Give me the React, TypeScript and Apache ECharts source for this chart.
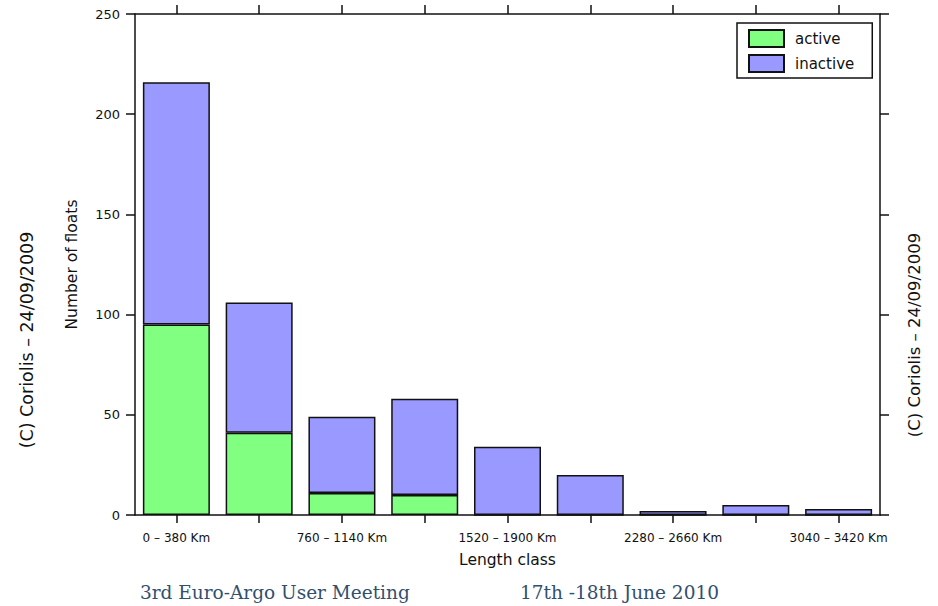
import React, { useEffect, useRef } from "react";
import * as echarts from "echarts";

// Length classes of float trajectories
const categories = [
  "0 – 380 Km",
  "380 – 760 Km",
  "760 – 1140 Km",
  "1140 – 1520 Km",
  "1520 – 1900 Km",
  "1900 – 2280 Km",
  "2280 – 2660 Km",
  "2660 – 3040 Km",
  "3040 – 3420 Km",
];

// Number of floats per class
const activeFloats = [95, 41, 11, 10, 0, 0, 0, 0, 0];
const inactiveFloats = [121, 65, 38, 48, 34, 20, 2, 5, 3];

const yTicks = [0, 50, 100, 150, 200, 250];

const FONT = "DejaVu Sans";
const AXIS_COLOR = "#111";

export default function App() {
  const ref = useRef<HTMLDivElement>(null);

  useEffect(() => {
    if (!ref.current) return;
    const chart = echarts.init(ref.current, undefined, { renderer: "svg" });

    const yMin = yTicks[0];
    const yMax = yTicks[yTicks.length - 1];
    const yStep = yTicks[1] - yTicks[0];

    const lineStyle = { color: AXIS_COLOR, width: 1.5 };

    chart.setOption({
      animation: false,
      backgroundColor: "#fff",
      grid: { left: 135, top: 14, right: 58, bottom: 91, containLabel: false },
      legend: {
        orient: "vertical",
        left: 737,
        top: 23,
        width: 136,
        itemWidth: 35,
        itemHeight: 17,
        itemGap: 6,
        padding: [6, 18, 5, 11],
        borderColor: AXIS_COLOR,
        borderWidth: 1.5,
        icon: "rect",
        textStyle: { fontFamily: FONT, fontSize: 15, color: "#111", padding: [0, 0, 0, 6] },
        data: ["active", "inactive"],
      },
      xAxis: [
        {
          type: "category",
          data: categories,
          position: "bottom",
          boundaryGap: true,
          axisLine: { onZero: false, lineStyle },
          axisTick: { show: true, alignWithLabel: true, interval: 0, length: 8, lineStyle },
          axisLabel: {
            interval: 1,
            margin: 17,
            fontFamily: FONT,
            fontSize: 12,
            color: "#111",
          },
          name: "Length class",
          nameLocation: "middle",
          nameGap: 37,
          nameTextStyle: { fontFamily: FONT, fontSize: 15.5, color: "#111" },
        },
        {
          type: "category",
          data: categories,
          position: "top",
          boundaryGap: true,
          axisLine: { onZero: false, lineStyle },
          axisTick: { show: true, alignWithLabel: true, interval: 0, length: 9, lineStyle },
          axisLabel: { show: true, interval: 0, formatter: () => "" },
        },
      ],
      yAxis: [
        {
          type: "value",
          min: yMin,
          max: yMax,
          interval: yStep,
          position: "left",
          axisLine: { show: true, onZero: false, lineStyle },
          axisTick: { show: true, length: 9, lineStyle },
          splitLine: { show: false },
          axisLabel: { margin: 15, fontFamily: FONT, fontSize: 13, color: "#111" },
          name: "Number of floats",
          nameLocation: "middle",
          nameGap: 55,
          nameTextStyle: { fontFamily: FONT, fontSize: 15.5, color: "#111" },
        },
        {
          type: "value",
          min: yMin,
          max: yMax,
          interval: yStep,
          position: "right",
          axisLine: { show: true, onZero: false, lineStyle },
          axisTick: { show: true, length: 9, lineStyle },
          splitLine: { show: false },
          axisLabel: { show: false },
        },
      ],
      series: [
        {
          name: "active",
          type: "bar",
          stack: "floats",
          barWidth: 67,
          data: activeFloats,
          itemStyle: { color: "#80ff80", borderColor: AXIS_COLOR, borderWidth: 1.5 },
        },
        {
          name: "inactive",
          type: "bar",
          stack: "floats",
          barWidth: 67,
          data: inactiveFloats,
          itemStyle: { color: "#9999ff", borderColor: AXIS_COLOR, borderWidth: 1.5 },
        },
      ],
      graphic: [
        {
          type: "text",
          x: 27,
          y: 340,
          rotation: Math.PI / 2,
          style: {
            text: "(C) Coriolis – 24/09/2009",
            fontFamily: FONT,
            fontSize: 17.5,
            fill: "#111",
            align: "center",
            verticalAlign: "middle",
          },
        },
        {
          type: "text",
          x: 914,
          y: 335,
          rotation: Math.PI / 2,
          style: {
            text: "(C) Coriolis – 24/09/2009",
            fontFamily: FONT,
            fontSize: 16.5,
            fill: "#111",
            align: "center",
            verticalAlign: "middle",
          },
        },
        {
          type: "text",
          x: 140,
          y: 602,
          style: {
            text: "3rd Euro-Argo User Meeting",
            fontFamily: "DejaVu Serif",
            fontSize: 18.5,
            fill: "#31506e",
            align: "left",
            verticalAlign: "bottom",
          },
        },
        {
          type: "text",
          x: 520,
          y: 602,
          style: {
            text: "17th -18th June 2010",
            fontFamily: "DejaVu Serif",
            fontSize: 18.5,
            fill: "#31506e",
            align: "left",
            verticalAlign: "bottom",
          },
        },
      ],
    });

    return () => chart.dispose();
  }, []);

  return (
    <div
      ref={ref}
      style={{ position: "fixed", left: 0, top: 0, width: 938, height: 606, background: "#fff" }}
    />
  );
}
